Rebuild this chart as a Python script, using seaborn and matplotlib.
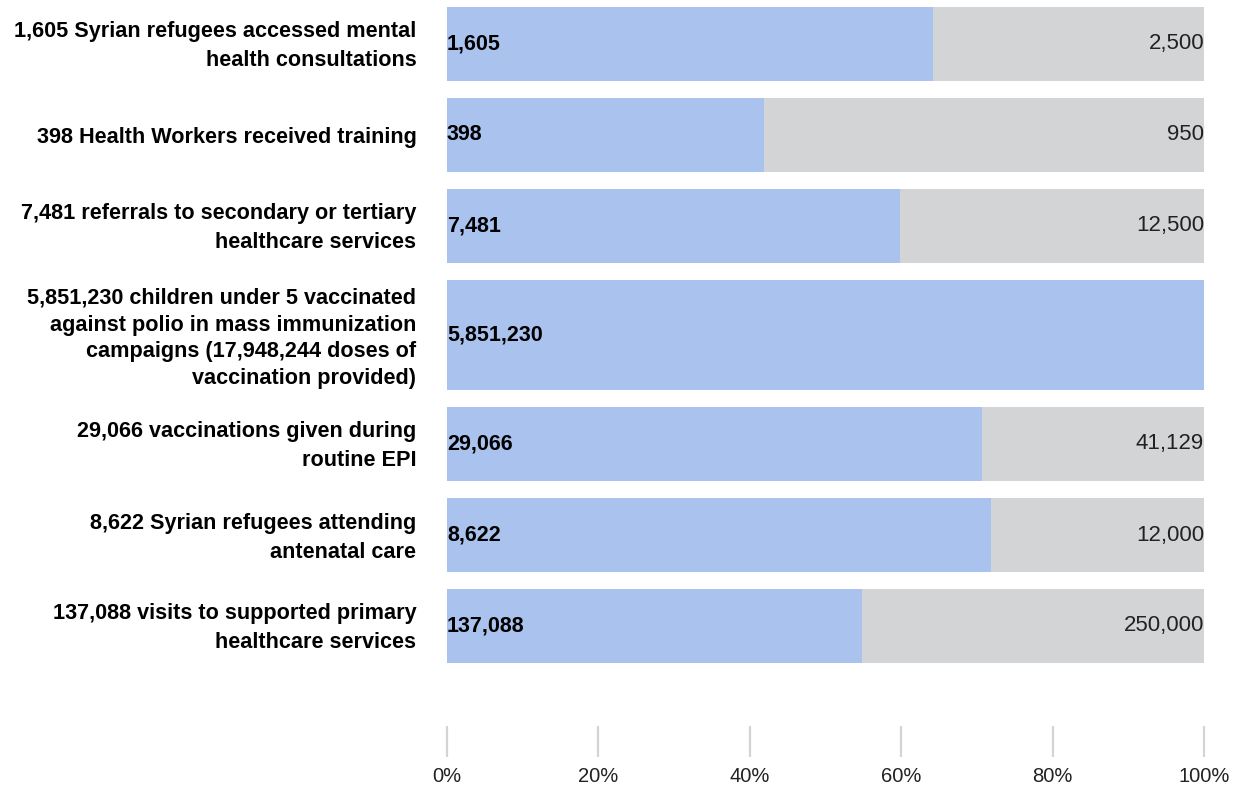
import matplotlib
matplotlib.use("Agg")
import matplotlib.pyplot as plt
import pandas as pd
import seaborn as sns

# Indicator data: achieved results and annual targets
labels = [
    "1,605 Syrian refugees accessed mental\nhealth consultations",
    "398 Health Workers received training",
    "7,481 referrals to secondary or tertiary\nhealthcare services",
    "5,851,230 children under 5 vaccinated\nagainst polio in mass immunization\ncampaigns (17,948,244 doses of\nvaccination provided)",
    "29,066 vaccinations given during\nroutine EPI",
    "8,622 Syrian refugees attending\nantenatal care",
    "137,088 visits to supported primary\nhealthcare services",
]
achieved = [1605, 398, 7481, 5851230, 29066, 8622, 137088]
targets = [2500, 950, 12500, None, 41129, 12000, 250000]
tick_values = [0, 20, 40, 60, 80, 100]
tick_labels = ["0%", "20%", "40%", "60%", "80%", "100%"]

BLUE = "#aac3ee"
GRAY = "#d3d4d6"

pct = [a / t * 100 if t else 100.0 for a, t in zip(achieved, targets)]
df = pd.DataFrame({"label": labels, "pct": pct, "full": [100.0] * len(labels)})

sns.set_theme(style="white")
plt.rcParams["font.family"] = ["Liberation Sans", "DejaVu Sans"]

fig = plt.figure(figsize=(12.42, 7.87), dpi=100)
W, H = 1242, 787
left, right, top, bottom = 447, 1204, 7, 663
ax = fig.add_axes([left / W, 1 - bottom / H, (right - left) / W, (bottom - top) / H])

sns.barplot(data=df, y="label", x="full", color=GRAY, orient="h", ax=ax,
            linewidth=0, saturation=1)
sns.barplot(data=df, y="label", x="pct", color=BLUE, orient="h", ax=ax,
            linewidth=0, saturation=1)

# Row layout: taller band for the four-line label
n_lines = [lab.count("\n") + 1 for lab in labels]
row_h = [110 if k >= 3 else 74 for k in n_lines]
gap = 17
tops, y = [], 0
for h in row_h:
    tops.append(y)
    y += h + gap
total = y - gap
centers = [t + h / 2 for t, h in zip(tops, row_h)]

n = len(labels)
for i, p in enumerate(ax.patches):
    r = i % n
    p.set_y(tops[r])
    p.set_height(row_h[r])

ax.set_ylim(total, 0)
ax.set_xlim(0, 100)

# Axis line sits below the bars; move it before styling ticks
ax.spines["bottom"].set_position(("outward", 45.4))
for s in ax.spines.values():
    s.set_visible(False)

# Multi-line labels sit a touch above the bar centre
label_shift = {1: 0.0, 2: -4.0, 4: -2.0}
ax.set_yticks([c + label_shift.get(k, 0.0) for c, k in zip(centers, n_lines)])
ax.set_yticklabels(labels, fontsize=15.6, fontweight="bold", color="black")
for t, k in zip(ax.get_yticklabels(), n_lines):
    t.set_linespacing(1.36 if k >= 3 else 1.5)
    t.set_multialignment("right")
ax.tick_params(axis="y", length=0, pad=22)

ax.set_xticks(tick_values)
ax.set_xticklabels(tick_labels, fontsize=14.5, color="#222222")
ax.tick_params(axis="x", bottom=True, direction="out", length=22.3, width=1.6,
               color="#d4d4d4", pad=7)

ax.set_xlabel("")
ax.set_ylabel("")
ax.grid(False)

for c, a, t in zip(centers, achieved, targets):
    ax.text(0, c, f"{a:,}", ha="left", va="center", fontsize=15.5,
            fontweight="bold", color="black")
    if t:
        ax.text(100, c, f"{t:,}", ha="right", va="center", fontsize=16,
                color="#222222")

fig.savefig("out.png", dpi=100)
